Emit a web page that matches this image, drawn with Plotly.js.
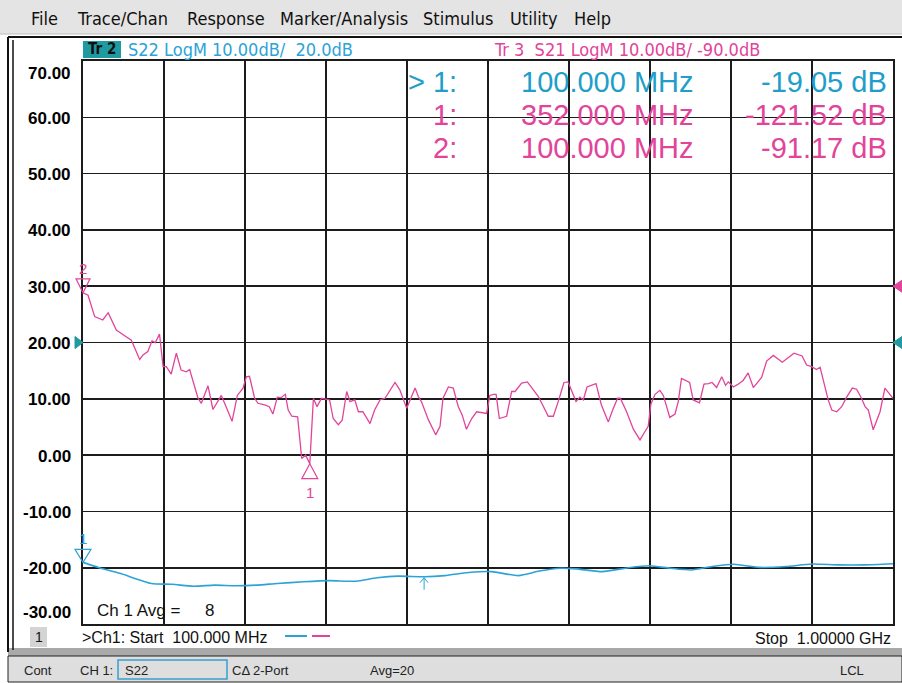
<!DOCTYPE html>
<html>
<head>
<meta charset="utf-8">
<script src="https://cdn.plot.ly/plotly-3.0.1.min.js"></script>
<style>html,body{margin:0;padding:0;background:#fff;}#chart{width:902px;height:683px;}</style>
</head>
<body>
<div id="chart"></div>
<script>
// ---- data (display scale, dB) ----
const s21Freq = [100,105.6,113,122,128,137,142.6,153.7,163,166.7,
  172,176.7,180.4,185,189,192.6,198,203.7,209,214.8,
  218.5,227.8,231.5,238.9,244.4,253.7,259,265.6,271.5,277.8,
  281.5,285,290.7,294.4,301.8,307,311,315.9,320,324.8,
  328,332,338.5,343,347.4,352,356,360,365,370.7,
  374,378,383.7,388,393,396.7,402,406,411,418.9,
  424,430,435.6,446.7,452,459.7,469,472.6,476,483.7,
  491.9,496.7,500,506,511.4,517,521.4,526,531.9,537.4,
  543,548.5,552,556,559,562.6,570.7,576.3,580,587.4,
  593.7,598.5,606,617,622.6,628,634.4,639,643,647.8,
  652,655.9,660,665,670,676,683.7,688.5,694,697,
  704,711.5,718.9,722.6,728,731,735.6,741,744.8,752,
  757.8,761.4,765,774,778,785,790,794.8,799,804,
  809.7,814,817,822.6,828,833.7,839,844.8,854,859.6,
  867,877,883.7,890,899,904,909.6,915,919,924.4,
  928,932,937.4,943,948.5,954.8,959.6,965,969,972.6,
  978,985.6,991,998.5,1000];
const s21Val = [28.83,28.4,24.6,24.0,25.3,22.2,21.6,20.4,17.0,17.8,
  18.4,20.3,20.0,21.5,15.7,15.7,14.4,18.1,15.1,14.8,
  15.2,10.1,9.2,12.3,8.1,10.6,8.6,6.0,10.6,11.9,
  13.9,14.0,10.1,9.2,8.9,8.6,7.3,10.3,10.2,10.8,
  8.0,6.9,6.8,-0.6,0.0,-1.52,10.1,8.6,10.1,9.9,
  9.8,6.5,5.4,6.2,11.3,9.5,9.8,7.7,7.7,5.6,
  8.0,9.8,10.1,12.9,11.6,8.3,11.9,10.4,9.5,6.3,
  3.6,5.1,10.1,12.1,11.9,8.6,7.1,4.6,6.5,7.7,
  7.5,7.4,10.6,10.8,10.8,6.5,6.9,11.3,11.3,12.8,
  13.0,12.0,10.4,6.9,6.9,9.5,12.9,13.0,11.5,9.5,
  10.3,9.8,12.1,12.4,12.7,8.9,5.9,8.0,10.1,10.1,
  7.7,4.6,2.7,3.7,5.1,9.1,10.8,11.5,10.6,6.7,
  7.3,9.5,13.6,12.9,9.8,9.3,12.6,12.7,12.9,12.0,
  13.9,12.4,13.0,12.1,12.6,13.3,14.6,12.0,13.8,16.7,
  17.7,16.5,17.4,18.1,17.6,16.0,15.7,15.2,15.6,12.4,
  9.8,8.0,7.7,8.6,10.3,11.9,11.7,10.1,8.6,8.0,
  4.5,7.7,11.9,10.4,10.1];

const s22Freq = [100,118,141,176,199,223,246,269,292.6,316,345,374,403,426.7,450,479,502,531,554,583.9,
  607,630.5,648,677,706,729.6,752.8,776,799,822.8,852,881,910,939,968,1000];
const s22Val = [-19.05,-20.0,-21.0,-22.8,-22.95,-23.3,-23.1,-23.2,-23.1,-22.8,-22.5,-22.3,-22.4,-21.8,-21.5,-21.6,-21.4,-20.8,-20.7,-21.4,
  -20.6,-20.1,-20.2,-20.7,-20.0,-19.65,-20.1,-20.4,-19.8,-19.4,-19.95,-19.8,-19.35,-19.5,-19.5,-19.3];

// markers (display positions)
const s21MarkerId = ['1','2'];
const s21MarkerFreq = [352,100];
const s21MarkerVal = [-1.52,28.83];
const s22MarkerId = ['1'];
const s22MarkerFreq = [100];
const s22MarkerVal = [-19.05];
const refLevelS22 = 20;
const refLevelS21 = 30;

// readout table
const readPrefix = ['> 1:','1:','2:'];
const readFreq = ['100.000 MHz','352.000 MHz','100.000 MHz'];
const readVal = ['-19.05 dB','-121.52 dB','-91.17 dB'];

const yTickVals = [70,60,50,40,30,20,10,0,-10,-20,-30];
const yTickText = ['70.00','60.00','50.00','40.00','30.00','20.00','10.00','0.00','-10.00','-20.00','-30.00'];
const menuItems = ['File','Trace/Chan','Response','Marker/Analysis','Stimulus','Utility','Help'];

const xRange = [100,1000];
const yRange = [-30,70];

// ---- styling ----
const BLUE = '#2ba3d8';
const TEAL = '#1e9aa0';
const PINK = '#e2449a';
const F = 'Liberation Sans, Arial, sans-serif';
const FN = 'Liberation Sans Narrow, DejaVu Sans Condensed, Liberation Sans, sans-serif';
const L = 83, R = 893, T = 61, B = 624;
const W = 902, H = 683;
const xPx = px => (px - L) / (R - L);
const yPx = py => (B - py) / (B - T);
// data -> paper fraction via the axis ranges (used for unclipped marker glyphs)
const xD = v => (v - xRange[0]) / (xRange[1] - xRange[0]);
const yD = v => (v - yRange[0]) / (yRange[1] - yRange[0]);

function txt(px, py, text, size, color, anchor, family, extra) {
  return Object.assign({xref:'paper', yref:'paper', x:xPx(px), y:yPx(py), text:text, showarrow:false,
    xanchor:anchor||'left', yanchor:'middle', font:{family:family||F, size:size, color:color}}, extra||{});
}
function rect(x0,y0,x1,y1,fill,line,lw,layer){
  return {type:'rect', xref:'paper', yref:'paper', x0:xPx(x0), x1:xPx(x1), y0:yPx(y0), y1:yPx(y1),
    fillcolor:fill||'rgba(0,0,0,0)', line:{color:line||'rgba(0,0,0,0)', width:lw||0}, layer:layer||'above'};
}
function lineP(x0,y0,x1,y1,color,w){
  return {type:'line', xref:'paper', yref:'paper', x0:xPx(x0), x1:xPx(x1), y0:yPx(y0), y1:yPx(y1), line:{color:color, width:w}};
}
function pix(xv, yv, path, color, fill, w){
  return {type:'path', xref:'paper', yref:'paper', xsizemode:'pixel', ysizemode:'pixel', xanchor:xD(xv), yanchor:yD(yv),
    path:path, line:{color:color, width:w||1.2}, fillcolor:fill||'rgba(0,0,0,0)', layer:'above'};
}

const traces = [
  {x:s22Freq, y:s22Val, type:'scatter', mode:'lines', line:{color:BLUE, width:1.6, shape:'spline', smoothing:0.6}, hoverinfo:'skip'},
  {x:s21Freq, y:s21Val, type:'scatter', mode:'lines', line:{color:PINK, width:1.3}, hoverinfo:'skip'}
];

const shapes = [
  rect(0,0,W,34,'#e4e4e4',null,0,'below'),
  lineP(0,34,W,34,'#bdbdbd',1),
  lineP(8,37,W,37,'#111',2),
  lineP(8,37,8,652,'#111',2),
  lineP(13,40,13,650,'#111',1.5),
  rect(8,648,W,656,'#a9a9a9',null,0,'below'),
  rect(8,656,W,682,'#dedede','#222',1,'below'),
  rect(83,41,121,58,TEAL,null,0,'below'),
  rect(30,627,47,647,'#d4d4d4',null,0,'below'),
  rect(118,660,227,679,null,'#3a9fd0',1.5,'above'),
  lineP(285,636,307,636,BLUE,2),
  lineP(312,636,330,636,PINK,2),
  // reference position indicators
  pix(xRange[0],refLevelS22,'M-8,6 L0,0 L-8,-6 Z',TEAL,TEAL,1),
  pix(xRange[1],refLevelS22,'M9,6 L0,0 L9,-6 Z',TEAL,TEAL,1),
  pix(xRange[1],refLevelS21,'M9,6 L0,0 L9,-6 Z',PINK,PINK,1),
];
// marker triangles
shapes.push(pix(s21MarkerFreq[1], s21MarkerVal[1], 'M0,0 L-7,14 L7,14 Z', PINK));
shapes.push(pix(s21MarkerFreq[0], s21MarkerVal[0], 'M0,0 L-8,-15 L8,-15 Z', PINK));
shapes.push(pix(s22MarkerFreq[0], s22MarkerVal[0], 'M0,0 L-8,13 L8,13 Z', BLUE));
// delta arrow on S22
shapes.push(pix(s22Freq[15], s22Val[15], 'M0,-1 L0,-13 M-4,-6 L0,-1 L4,-6', BLUE, null, 1));

const ann = [];
const menuX = [29,75,185,278,421,508,572];
menuItems.forEach((m,i)=>ann.push(txt(menuX[i],19,m,18,'#111','left',FN)));
ann.push(txt(86,49.5,'<b>Tr 2</b>',15,'#111','left',FN));
ann.push(txt(126,49.5,'S22 LogM 10.00dB/  20.0dB',18,BLUE,'left',FN));
ann.push(txt(492,49.5,'Tr 3  S21 LogM 10.00dB/ -90.0dB',18,PINK,'left',FN));
const rowY = [82,115,148];
const rowC = [ '#1e9ec8', PINK, PINK ];
for (let i=0;i<3;i++){
  ann.push(txt(459,rowY[i],readPrefix[i],29,rowC[i],'right'));
  ann.push(txt(696,rowY[i],readFreq[i],29,rowC[i],'right'));
  ann.push(txt(889,rowY[i],readVal[i],29,rowC[i],'right'));
}
// y tick labels
yTickVals.forEach((v,i)=>{
  let sh = -1;
  if (v===70) sh = -12;
  if (v===-30) sh = 12;
  ann.push({xref:'paper', yref:'y', x:xPx(73), y:v, yshift:sh, text:yTickText[i], showarrow:false,
    xanchor:'right', yanchor:'middle', font:{family:F, size:17, color:'#000', weight:600}});
});
// marker labels
ann.push({xref:'x', yref:'y', x:s21MarkerFreq[1], y:s21MarkerVal[1], yshift:24, text:s21MarkerId[1], showarrow:false, font:{family:F,size:15,color:PINK}});
ann.push({xref:'x', yref:'y', x:s21MarkerFreq[0], y:s21MarkerVal[0], yshift:-29, text:s21MarkerId[0], showarrow:false, font:{family:F,size:15,color:PINK}});
ann.push({xref:'x', yref:'y', x:s22MarkerFreq[0], y:s22MarkerVal[0], yshift:24, text:s22MarkerId[0], showarrow:false, font:{family:F,size:15,color:BLUE}});
// bottom texts
ann.push(txt(95,610,'Ch 1 Avg =',17,'#111','left'));
ann.push(txt(203,610,'8',17,'#111','left'));
ann.push(txt(38.5,637,'1',14,'#111','center'));
ann.push(txt(80,637,'>Ch1: Start  100.000 MHz',16,'#111','left'));
ann.push(txt(893,638,'Stop  1.00000 GHz',16,'#111','right'));
// status bar
ann.push(txt(22,670,'Cont',13,'#222','left'));
ann.push(txt(78,670,'CH 1:',13,'#222','left'));
ann.push(txt(123,670,'S22',13,'#222','left'));
ann.push(txt(230,670,'C\u0394 2-Port',13,'#222','left'));
ann.push(txt(368,670,'Avg=20',13,'#222','left'));
ann.push(txt(838,670,'LCL',13,'#222','left'));

const axisCommon = {showgrid:true, gridcolor:'#1c1c1c', gridwidth:1.6, zeroline:false, showticklabels:false,
  ticks:'', showline:true, mirror:true, linecolor:'#1c1c1c', linewidth:1.6, fixedrange:true};

const layout = {
  width:W, height:H,
  margin:{l:L, r:W-R, t:T, b:H-B, pad:0},
  paper_bgcolor:'#ffffff', plot_bgcolor:'#ffffff',
  showlegend:false,
  xaxis:Object.assign({range:xRange, tick0:100, dtick:90}, axisCommon),
  yaxis:Object.assign({range:yRange, tick0:-30, dtick:10}, axisCommon),
  shapes:shapes, annotations:ann
};

Plotly.newPlot('chart', traces, layout, {staticPlot:true, displayModeBar:false});
</script>
</body>
</html>
